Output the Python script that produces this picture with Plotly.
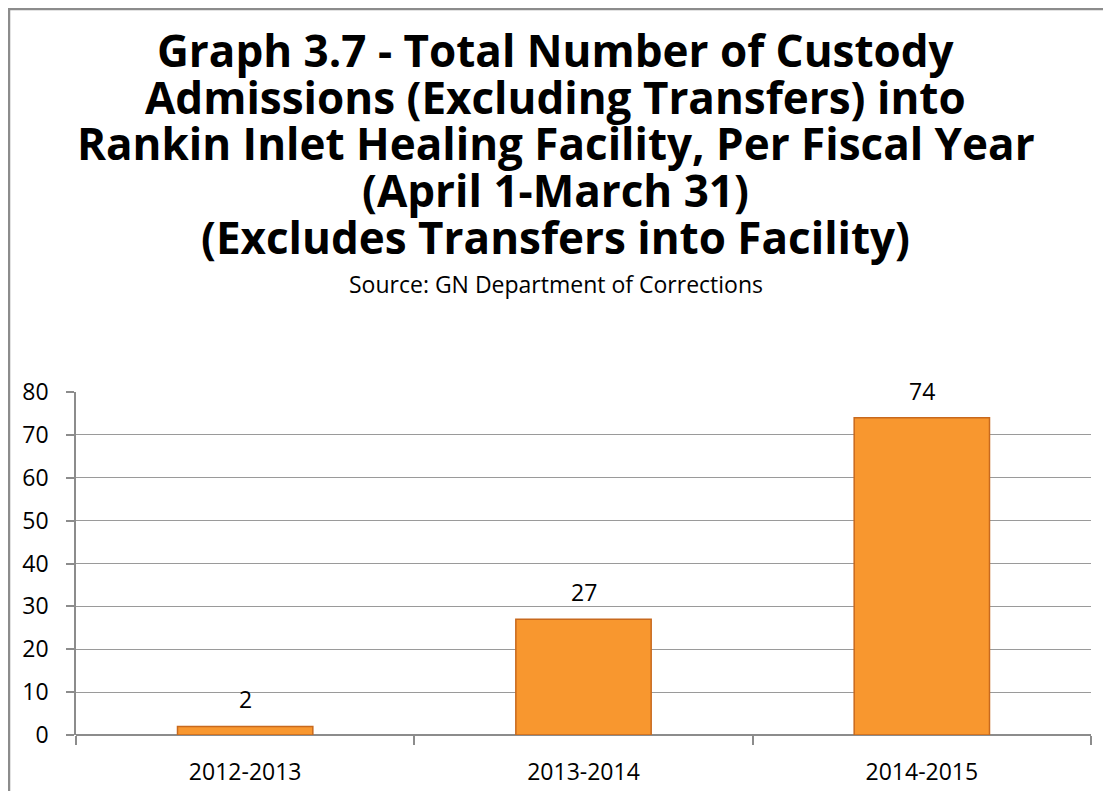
import plotly.graph_objects as go

categories = ["2012-2013", "2013-2014", "2014-2015"]
admissions = [2, 27, 74]
y_ticks = [0, 10, 20, 30, 40, 50, 60, 70, 80]

title_lines = [
    "Graph 3.7 - Total Number of Custody",
    "Admissions (Excluding Transfers) into",
    "Rankin Inlet Healing Facility, Per Fiscal Year",
    "(April 1-March 31)",
    "(Excludes Transfers into Facility)",
]
subtitle = "Source: GN Department of Corrections"

FONT = "Open Sans, Noto Sans, sans-serif"
OFF = 8  # page body margin
VW, VH = 1111, 799
W, H = VW - 2 * OFF, VH - 2 * OFF  # figure fits the viewport without scrolling
# plot area in screen pixels
PX0, PX1, PY0, PY1 = 76, 1091, 392, 735
pw, ph = PX1 - PX0, PY1 - PY0

def px_x(p):
    return (p - PX0) / pw

def px_y(p):
    return (PY1 - p) / ph

fig = go.Figure()
fig.add_trace(go.Bar(
    x=categories, y=admissions,
    marker=dict(color="#F8972F", line=dict(color="#C8691D", width=1.5)),
    width=0.4, hoverinfo="x+y",
))

for c, v in zip(categories, admissions):
    fig.add_annotation(
        x=c, y=v, text=str(v), showarrow=False, yanchor="bottom", yshift=9,
        font=dict(family=FONT, size=23, color="#000000"),
    )

fig.update_layout(
    width=W, height=H,
    margin=dict(l=PX0 - OFF, r=W - (PX1 - OFF), t=PY0 - OFF, b=H - (PY1 - OFF), pad=0,
                autoexpand=False),
    paper_bgcolor="white", plot_bgcolor="white",
    showlegend=False,
    font=dict(family=FONT, color="#000000"),
    xaxis=dict(
        showgrid=False, showline=False, ticks="outside", tickson="boundaries",
        ticklen=9, tickcolor="#8C8C8C", tickwidth=1.5, automargin=False,
        tickfont=dict(size=23), zeroline=False, ticklabelstandoff=21,
    ),
    yaxis=dict(
        range=[0, 80], tickvals=y_ticks, showgrid=True, gridcolor="#9A9A9A", gridwidth=1.2,
        showline=True, linecolor="#8C8C8C", linewidth=1.5, automargin=False,
        ticks="outside", ticklen=8, tickcolor="#8C8C8C", tickwidth=1.5,
        tickfont=dict(size=23), zeroline=True, zerolinecolor="#8C8C8C", zerolinewidth=1.5,
        ticklabelstandoff=13,
    ),
)

line_centers = [50, 97, 143, 190, 237]
for s, yc in zip(title_lines, line_centers):
    fig.add_annotation(
        text="<b>%s</b>" % s,
        xref="paper", yref="paper", x=px_x(VW / 2), y=px_y(yc), xanchor="center", yanchor="middle",
        showarrow=False, font=dict(size=44, family=FONT),
    )
fig.add_annotation(
    text=subtitle,
    xref="paper", yref="paper", x=px_x(VW / 2), y=px_y(284), xanchor="center", yanchor="middle",
    showarrow=False, font=dict(size=23, family=FONT),
)

fig.add_shape(
    type="rect", xref="paper", yref="paper",
    x0=px_x(OFF + 1), x1=px_x(VW + 60), y0=px_y(VH + 60), y1=px_y(OFF + 1),
    line=dict(color="#8C8C8C", width=2.5), fillcolor="rgba(0,0,0,0)", layer="above",
)

fig.write_html("out.html")
